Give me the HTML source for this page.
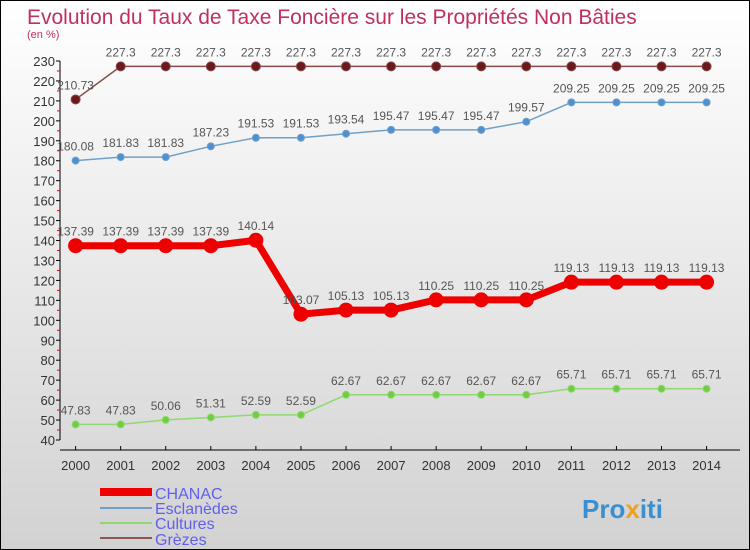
<!DOCTYPE html>
<html><head><meta charset="utf-8"><style>
body{margin:0}
#c{width:750px;height:550px;position:relative;overflow:hidden;box-sizing:border-box;border:1px solid #000;background:linear-gradient(#fff,#d2d2d2);font-family:"Liberation Sans",sans-serif}
</style></head><body>
<div id="c">
<svg id="s" width="750" height="550" style="position:absolute;left:-1px;top:-1px">
<text x="27" y="24" font-size="21" fill="#c0305e">Evolution du Taux de Taxe Foncière sur les Propriétés Non Bâties</text>
<text x="27" y="38" font-size="11" fill="#c0305e">(en %)</text>
<g id="axes"></g><g id="series"></g>
<g font-size="16" fill="#6060ee">
<rect x="100" y="488" width="52" height="8" fill="#ee0000"/>
<text x="155" y="499">CHANAC</text>
<rect x="100" y="507" width="52" height="2" fill="#6fa0c8"/>
<text x="155" y="514">Esclanèdes</text>
<rect x="100" y="522" width="52" height="2" fill="#8fd870"/>
<text x="155" y="529">Cultures</text>
<rect x="100" y="537" width="52" height="2" fill="#8a5555"/>
<text x="155" y="545">Grèzes</text>
</g>
<text x="582" y="518" font-size="26" font-weight="bold" fill="#3a8fd0">Pro<tspan fill="#f0a020">x</tspan>iti</text>
</svg>
</div>
<script>
const years=[2000,2001,2002,2003,2004,2005,2006,2007,2008,2009,2010,2011,2012,2013,2014];
const chanac=[137.39,137.39,137.39,137.39,140.14,103.07,105.13,105.13,110.25,110.25,110.25,119.13,119.13,119.13,119.13];
const esclanedes=[180.08,181.83,181.83,187.23,191.53,191.53,193.54,195.47,195.47,195.47,199.57,209.25,209.25,209.25,209.25];
const cultures=[47.83,47.83,50.06,51.31,52.59,52.59,62.67,62.67,62.67,62.67,62.67,65.71,65.71,65.71,65.71];
const grezes=[210.73,227.3,227.3,227.3,227.3,227.3,227.3,227.3,227.3,227.3,227.3,227.3,227.3,227.3,227.3];
const yTicks=[40,50,60,70,80,90,100,110,120,130,140,150,160,170,180,190,200,210,220,230];
const NS="http://www.w3.org/2000/svg";
const X=i=>75.6+i*45.07;
const Y=v=>440-(v-40)*(379/190);
function mk(t,a,p){const e=document.createElementNS(NS,t);for(const k in a)e.setAttribute(k,a[k]);p.appendChild(e);return e;}
const ax=document.getElementById('axes');
let l=mk('line',{x1:60,y1:Y(230),x2:60,y2:Y(40),stroke:'#000'},ax);


l=mk('line',{x1:60,y1:450,x2:740,y2:450,stroke:'#000'},ax);


yTicks.forEach((v,i)=>{
 mk('line',{x1:56,y1:Y(v),x2:60,y2:Y(v),stroke:'#000'},ax);
 if(i<yTicks.length-1)mk('line',{x1:57,y1:Y(v+5),x2:60,y2:Y(v+5),stroke:'#e00'},ax);
 const t=mk('text',{x:55,y:Y(v)+5,'text-anchor':'end','font-size':13,fill:'#333'},ax);
 t.textContent=v;
 
 
});
years.forEach((y,i)=>{
 mk('line',{x1:X(i),y1:446,x2:X(i),y2:450,stroke:'#000'},ax);
 const t=mk('text',{x:X(i),y:470,'text-anchor':'middle','font-size':13,fill:'#333'},ax);
 t.textContent=y;
 
 
});
const sg=document.getElementById('series');
function draw(name,data,color,w,r,dot){
 const g=mk('g',{},sg);
 
 
 const p=mk('polyline',{points:data.map((v,i)=>X(i)+','+Y(v)).join(' '),fill:'none',stroke:color,'stroke-width':w},g);
 
 
 data.forEach((v,i)=>{
  const c=mk('circle',{cx:X(i),cy:Y(v),r:r,fill:dot,stroke:color,'stroke-width':1},g);
  
  
  const t=mk('text',{x:X(i),y:Y(v)-10,'text-anchor':'middle','font-size':12,fill:'#555'},g);
  t.textContent=v;
  
  
 });
}
draw('grezes',grezes,'#8a4a4a',1.5,4.5,'#6a1a1a');
draw('esclanedes',esclanedes,'#6fa0c8',1.5,3.5,'#4f90d0');
draw('cultures',cultures,'#90d870',1.5,3.5,'#70cc40');
draw('chanac',chanac,'#ee0000',7,7,'#ee0000');
</script>
</body></html>
